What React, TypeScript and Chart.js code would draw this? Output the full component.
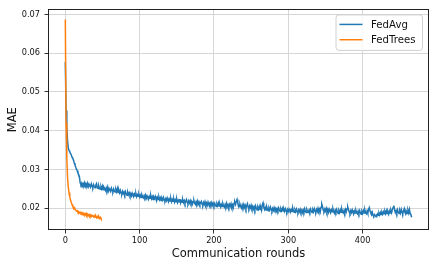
import React, { useEffect, useRef } from 'react';
import { Chart, registerables } from 'chart.js';

Chart.register(...registerables);

const seriesNames = ['FedAvg', 'FedTrees'];
const xTitle = 'Communication rounds';
const yTitle = 'MAE';
const xTicks = [0, 100, 200, 300, 400];
const yTicks = [0.02, 0.03, 0.04, 0.05, 0.06, 0.07];

const fedAvgMAE = [
  0.0577, 0.0452, 0.0412, 0.0374, 0.0356, 0.0349, 0.0346, 0.0341, 0.0338, 0.0332,
  0.0329, 0.0324, 0.0317, 0.0312, 0.0306, 0.0301, 0.0297, 0.0291, 0.0287, 0.0281,
  0.0266, 0.0261, 0.0265, 0.0258, 0.0264, 0.0260, 0.0266, 0.0257, 0.0263, 0.0259,
  0.0265, 0.0256, 0.0262, 0.0258, 0.0255, 0.0263, 0.0257, 0.0254, 0.0261, 0.0256,
  0.0253, 0.0260, 0.0264, 0.0255, 0.0251, 0.0258, 0.0252, 0.0249, 0.0256, 0.0250,
  0.0257, 0.0248, 0.0254, 0.0250, 0.0246, 0.0253, 0.0247, 0.0255, 0.0245, 0.0251,
  0.0247, 0.0244, 0.0252, 0.0246, 0.0243, 0.0250, 0.0245, 0.0242, 0.0249, 0.0243,
  0.0251, 0.0241, 0.0247, 0.0240, 0.0246, 0.0239, 0.0237, 0.0244, 0.0238, 0.0242,
  0.0236, 0.0243, 0.0237, 0.0234, 0.0241, 0.0235, 0.0240, 0.0233, 0.0238, 0.0232,
  0.0239, 0.0234, 0.0231, 0.0237, 0.0232, 0.0238, 0.0230, 0.0235, 0.0231, 0.0236,
  0.0229, 0.0234, 0.0228, 0.0235, 0.0230, 0.0227, 0.0233, 0.0228, 0.0234, 0.0226,
  0.0232, 0.0227, 0.0224, 0.0231, 0.0226, 0.0233, 0.0225, 0.0230, 0.0223, 0.0229,
  0.0225, 0.0231, 0.0224, 0.0221, 0.0228, 0.0223, 0.0229, 0.0222, 0.0227, 0.0220,
  0.0226, 0.0221, 0.0228, 0.0222, 0.0219, 0.0225, 0.0220, 0.0227, 0.0221, 0.0218,
  0.0224, 0.0219, 0.0225, 0.0217, 0.0223, 0.0218, 0.0224, 0.0216, 0.0222, 0.0217,
  0.0223, 0.0215, 0.0221, 0.0217, 0.0224, 0.0214, 0.0220, 0.0216, 0.0222, 0.0215,
  0.0220, 0.0213, 0.0219, 0.0223, 0.0215, 0.0212, 0.0219, 0.0214, 0.0220, 0.0213,
  0.0218, 0.0211, 0.0217, 0.0220, 0.0213, 0.0210, 0.0217, 0.0212, 0.0219, 0.0211,
  0.0216, 0.0210, 0.0215, 0.0218, 0.0211, 0.0208, 0.0215, 0.0210, 0.0217, 0.0209,
  0.0214, 0.0208, 0.0216, 0.0210, 0.0207, 0.0214, 0.0209, 0.0215, 0.0208, 0.0213,
  0.0207, 0.0213, 0.0208, 0.0205, 0.0212, 0.0207, 0.0214, 0.0206, 0.0211, 0.0204,
  0.0210, 0.0205, 0.0212, 0.0206, 0.0203, 0.0210, 0.0205, 0.0213, 0.0204, 0.0209,
  0.0203, 0.0210, 0.0205, 0.0212, 0.0204, 0.0209, 0.0202, 0.0213, 0.0216, 0.0210,
  0.0218, 0.0223, 0.0214, 0.0209, 0.0204, 0.0211, 0.0205, 0.0201, 0.0209, 0.0203,
  0.0210, 0.0202, 0.0208, 0.0200, 0.0207, 0.0212, 0.0203, 0.0199, 0.0206, 0.0201,
  0.0208, 0.0200, 0.0205, 0.0198, 0.0204, 0.0197, 0.0206, 0.0200, 0.0196, 0.0203,
  0.0198, 0.0205, 0.0197, 0.0202, 0.0195, 0.0209, 0.0214, 0.0203, 0.0197, 0.0202,
  0.0196, 0.0204, 0.0198, 0.0194, 0.0201, 0.0196, 0.0203, 0.0197, 0.0193, 0.0200,
  0.0195, 0.0202, 0.0196, 0.0200, 0.0193, 0.0199, 0.0194, 0.0201, 0.0195, 0.0192,
  0.0199, 0.0194, 0.0200, 0.0193, 0.0198, 0.0192, 0.0199, 0.0194, 0.0190, 0.0197,
  0.0192, 0.0198, 0.0193, 0.0191, 0.0197, 0.0192, 0.0200, 0.0193, 0.0190, 0.0196,
  0.0191, 0.0198, 0.0192, 0.0189, 0.0196, 0.0191, 0.0197, 0.0190, 0.0195, 0.0189,
  0.0196, 0.0191, 0.0199, 0.0192, 0.0189, 0.0197, 0.0192, 0.0190, 0.0196, 0.0191,
  0.0198, 0.0192, 0.0189, 0.0196, 0.0191, 0.0199, 0.0193, 0.0190, 0.0197, 0.0192,
  0.0200, 0.0193, 0.0198, 0.0191, 0.0203, 0.0211, 0.0205, 0.0195, 0.0192, 0.0198,
  0.0193, 0.0200, 0.0191, 0.0197, 0.0190, 0.0198, 0.0193, 0.0189, 0.0196, 0.0191,
  0.0199, 0.0192, 0.0188, 0.0195, 0.0190, 0.0197, 0.0191, 0.0187, 0.0194, 0.0189,
  0.0196, 0.0190, 0.0198, 0.0191, 0.0188, 0.0195, 0.0189, 0.0197, 0.0191, 0.0199,
  0.0203, 0.0196, 0.0191, 0.0187, 0.0194, 0.0189, 0.0196, 0.0190, 0.0186, 0.0193,
  0.0188, 0.0195, 0.0189, 0.0186, 0.0193, 0.0187, 0.0194, 0.0188, 0.0185, 0.0192,
  0.0187, 0.0194, 0.0188, 0.0196, 0.0189, 0.0186, 0.0193, 0.0187, 0.0198, 0.0202,
  0.0193, 0.0188, 0.0184, 0.0190, 0.0182, 0.0180, 0.0184, 0.0181, 0.0178, 0.0183,
  0.0186, 0.0182, 0.0188, 0.0183, 0.0189, 0.0184, 0.0190, 0.0185, 0.0191, 0.0186,
  0.0192, 0.0186, 0.0194, 0.0187, 0.0191, 0.0185, 0.0193, 0.0188, 0.0195, 0.0189,
  0.0197, 0.0202, 0.0207, 0.0196, 0.0189, 0.0194, 0.0188, 0.0196, 0.0190, 0.0187,
  0.0194, 0.0188, 0.0197, 0.0190, 0.0186, 0.0193, 0.0199, 0.0189, 0.0185, 0.0192,
  0.0187, 0.0195, 0.0188, 0.0197, 0.0186, 0.0183, 0.0177,
];

const fedTreesMAE = [
  0.0687, 0.0420, 0.0330, 0.0280, 0.0255, 0.0240, 0.0229, 0.0222, 0.0215, 0.0210,
  0.0205, 0.0202, 0.0198, 0.0199, 0.0195, 0.0193, 0.0194, 0.0190, 0.0192, 0.0188,
  0.0190, 0.0187, 0.0189, 0.0185, 0.0188, 0.0184, 0.0186, 0.0183, 0.0187, 0.0182,
  0.0185, 0.0181, 0.0184, 0.0180, 0.0183, 0.0179, 0.0182, 0.0180, 0.0178, 0.0181,
  0.0177, 0.0180, 0.0176, 0.0179, 0.0175, 0.0178, 0.0174, 0.0177, 0.0173, 0.0170,
];

const colors = ['#1f77b4', '#ff7f0e'];
const FONT = "'DejaVu Sans', sans-serif";

export default function App() {
  const ref = useRef<HTMLCanvasElement>(null);

  useEffect(() => {
    const canvas = ref.current;
    if (!canvas) return;
    const n = fedAvgMAE.length - 1;
    const allY = [...fedAvgMAE, ...fedTreesMAE];
    const yMin = Math.min(...allY);
    const yMax = Math.max(...allY);
    const yPad = (yMax - yMin) * 0.05;

    const frame = {
      id: 'frame',
      afterDatasetsDraw(chart: any) {
        const { ctx, chartArea: a } = chart;
        ctx.save();
        ctx.strokeStyle = '#222';
        ctx.lineWidth = 1;
        ctx.strokeRect(Math.round(a.left) + 0.5, Math.round(a.top) + 0.5,
          Math.round(a.right - a.left) - 1, Math.round(a.bottom - a.top) - 1);
        ctx.restore();
      },
    };

    const mplLegend = {
      id: 'mplLegend',
      afterDraw(chart: any) {
        const { ctx, chartArea: a } = chart;
        const w = 86.5;
        const h = 35.5;
        const x0 = a.right - 6.5 - w;
        const y0 = a.top + 5.5;
        ctx.save();
        ctx.beginPath();
        const r = 3;
        ctx.moveTo(x0 + r, y0);
        ctx.lineTo(x0 + w - r, y0);
        ctx.arcTo(x0 + w, y0, x0 + w, y0 + r, r);
        ctx.lineTo(x0 + w, y0 + h - r);
        ctx.arcTo(x0 + w, y0 + h, x0 + w - r, y0 + h, r);
        ctx.lineTo(x0 + r, y0 + h);
        ctx.arcTo(x0, y0 + h, x0, y0 + h - r, r);
        ctx.lineTo(x0, y0 + r);
        ctx.arcTo(x0, y0, x0 + r, y0, r);
        ctx.closePath();
        ctx.fillStyle = 'rgba(255,255,255,0.8)';
        ctx.fill();
        ctx.strokeStyle = '#d0d0d0';
        ctx.lineWidth = 1;
        ctx.stroke();
        seriesNames.forEach((name, i) => {
          const yy = y0 + 9.5 + i * 15.3;
          ctx.beginPath();
          ctx.strokeStyle = colors[i];
          ctx.lineWidth = 1.5;
          ctx.moveTo(x0 + 3.5, yy);
          ctx.lineTo(x0 + 26.5, yy);
          ctx.stroke();
          ctx.fillStyle = '#111';
          ctx.font = `10.2px ${FONT}`;
          ctx.textBaseline = 'middle';
          ctx.textAlign = 'left';
          ctx.fillText(name, x0 + 35, yy + 0.5);
        });
        ctx.restore();
      },
    };

    const chart = new Chart(canvas, {
      type: 'line',
      data: {
        datasets: [
          {
            label: seriesNames[0],
            data: fedAvgMAE.map((y, i) => ({ x: i, y })),
            borderColor: colors[0],
            backgroundColor: colors[0],
            borderWidth: 1.5,
            pointRadius: 0,
            tension: 0,
            order: 2,
          },
          {
            label: seriesNames[1],
            data: fedTreesMAE.map((y, i) => ({ x: i, y })),
            borderColor: colors[1],
            backgroundColor: colors[1],
            borderWidth: 1.5,
            pointRadius: 0,
            tension: 0,
            order: 1,
          },
        ],
      },
      options: {
        responsive: false,
        animation: false,
        layout: { padding: { top: 7, right: 6, left: 0, bottom: 0 } },
        plugins: { legend: { display: false }, tooltip: { enabled: false } },
        scales: {
          x: {
            type: 'linear',
            min: -0.05 * n,
            max: n * 1.05,
            afterBuildTicks: (s: any) => {
              s.ticks = xTicks.map((v) => ({ value: v }));
            },
            afterFit: (s: any) => {
              s.height = 38;
            },
            ticks: {
              font: { family: FONT, size: 8.2 },
              color: '#111',
              padding: 2.5,
              maxRotation: 0,
              autoSkip: false,
              callback: (v: any) => String(v),
            },
            grid: {
              color: '#d6d6d6',
              lineWidth: 1,
              drawTicks: true,
              tickLength: 3.5,
              tickColor: '#333',
            },
            border: { display: false },
            title: {
              display: true,
              text: xTitle,
              font: { family: FONT, size: 11.5 },
              color: '#111',
              padding: { top: 0, bottom: 7 },
            },
          },
          y: {
            type: 'linear',
            min: yMin - yPad,
            max: yMax + yPad,
            afterBuildTicks: (s: any) => {
              s.ticks = yTicks.map((v) => ({ value: v }));
            },
            afterFit: (s: any) => {
              s.width = 48;
            },
            ticks: {
              font: { family: FONT, size: 8.2 },
              color: '#111',
              padding: 4.5,
              autoSkip: false,
              callback: (v: any) => Number(v).toFixed(2),
            },
            grid: {
              color: '#d6d6d6',
              lineWidth: 1,
              drawTicks: true,
              tickLength: 3.5,
              tickColor: '#333',
            },
            border: { display: false },
            title: {
              display: true,
              text: yTitle,
              font: { family: FONT, size: 11.5 },
              color: '#111',
              padding: { top: 6.5, bottom: 0 },
            },
          },
        },
      },
      plugins: [frame, mplLegend],
    } as any);

    return () => chart.destroy();
  }, []);

  return (
    <div style={{ position: 'fixed', left: 0, top: 0, width: 435, height: 268, background: '#fff' }}>
      <canvas ref={ref} width={435} height={268} style={{ display: 'block', width: 435, height: 268 }} />
    </div>
  );
}
